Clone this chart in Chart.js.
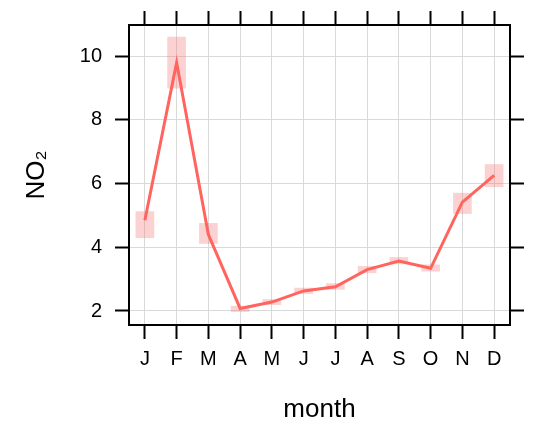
<!DOCTYPE html>
<html>
<head>
<meta charset="utf-8">
<script src="https://cdn.jsdelivr.net/npm/chart.js@4"></script>
<style>
  body { margin: 0; background: #fff; }
  #wrap { width: 535px; height: 425px; position: relative; }
</style>
</head>
<body>
<div id="wrap"><canvas id="no2"></canvas></div>
<script>
"use strict"
// Monthly NO2 means with their confidence band
const months = ["J", "F", "M", "A", "M", "J", "J", "A", "S", "O", "N", "D"];
const no2Mean = [4.85, 9.8, 4.4, 2.08, 2.28, 2.63, 2.76, 3.3, 3.57, 3.34, 5.42, 6.26];
const no2Low = [4.3, 9.0, 4.12, 1.98, 2.2, 2.55, 2.68, 3.2, 3.48, 3.25, 5.06, 5.9];
const no2High = [5.12, 10.6, 4.75, 2.15, 2.36, 2.72, 2.86, 3.4, 3.68, 3.45, 5.7, 6.6];
const yTicks = [2, 4, 6, 8, 10];

const font = "'Liberation Sans', Arial, sans-serif";
const yMin = 1.56, yMax = 10.98;

// samma tick-lista på båda y-axlarna
function setTicks(scale) {
  scale.ticks = yTicks.map(v => ({ value: v }));
}

new Chart(document.getElementById('no2'), {
  data: {
    labels: months,
    datasets: [
      {
        type: 'line',
        data: no2Mean,
        borderColor: 'rgb(255,100,95)',
        borderWidth: 3,
        pointRadius: 0,
        tension: 0,
        order: 0
      },
      {
        type: 'bar',
        data: no2Low.map((lo, i) => [lo, no2High[i]]),
        backgroundColor: 'rgba(245,120,120,0.34)',
        barThickness: 18,
        borderSkipped: false,
        order: 1
      }
    ]
  },
  options: {
    responsive: true,
    maintainAspectRatio: false,
    animation: false,
    layout: { padding: 0 },
    plugins: {
      legend: { display: false },
      tooltip: { enabled: false }
    },
    scales: {
      x: {
        type: 'category',
        position: 'bottom',
        offset: true,
        grid: { offset: false, color: '#d9d9d9', lineWidth: 1, tickColor: '#000', tickWidth: 2, tickLength: 14 },
        border: { color: '#000', width: 2 },
        ticks: { color: '#000', padding: 8, font: { family: font, size: 20 } },
        title: { display: true, text: 'month', color: '#000', padding: { top: 0, bottom: 0 }, font: { family: font, size: 26 } },
        afterFit: s => { s.height = 100; }
      },
      x2: {
        type: 'category',
        position: 'top',
        offset: true,
        grid: { offset: false, drawOnChartArea: false, tickColor: '#000', tickWidth: 2, tickLength: 14 },
        border: { color: '#000', width: 2 },
        ticks: { display: false },
        afterFit: s => { s.height = 23; }
      },
      y: {
        type: 'linear',
        position: 'left',
        min: yMin,
        max: yMax,
        afterBuildTicks: setTicks,
        grid: { color: '#d9d9d9', lineWidth: 1, tickColor: '#000', tickWidth: 2, tickLength: 14 },
        border: { color: '#000', width: 2 },
        ticks: { color: '#000', padding: 13, font: { family: font, size: 20 } },
        title: { display: true, text: 'NO₂', color: '#000', padding: { top: 21, bottom: 0 }, font: { family: font, size: 26 } },
        afterFit: s => { s.width = 129; }
      },
      y2: {
        type: 'linear',
        position: 'right',
        min: yMin,
        max: yMax,
        afterBuildTicks: setTicks,
        grid: { drawOnChartArea: false, tickColor: '#000', tickWidth: 2, tickLength: 14 },
        border: { color: '#000', width: 2 },
        ticks: { display: false },
        afterFit: s => { s.width = 25; }
      }
    }
  }
});
</script>
</body>
</html>
